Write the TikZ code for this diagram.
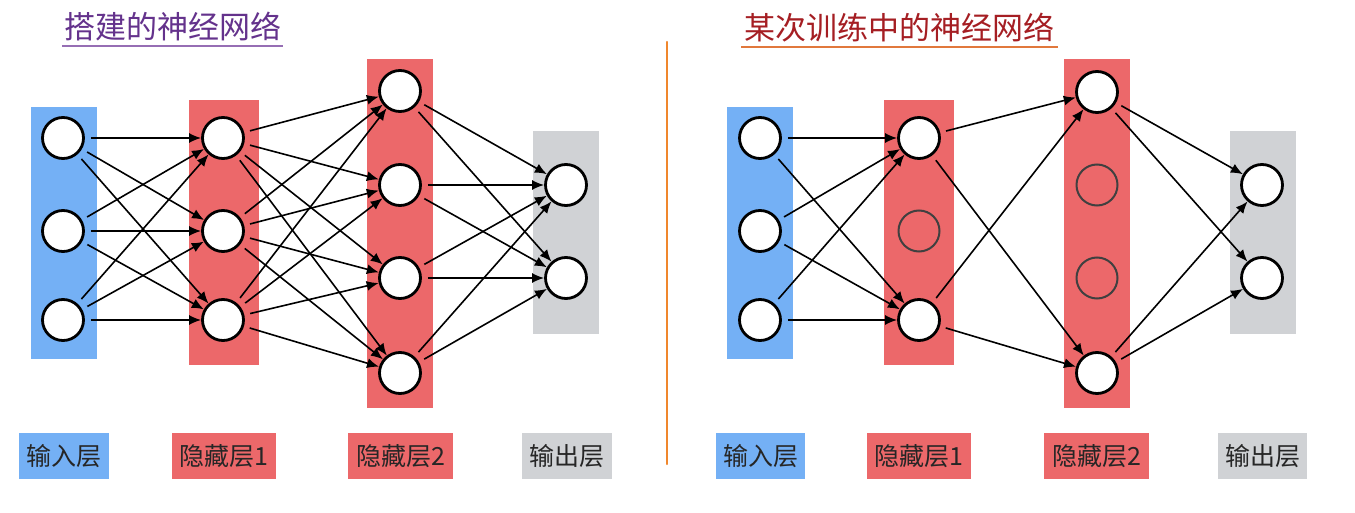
\documentclass[tikz,border=0pt]{standalone}
\usepackage{fontspec}
\newfontfamily\cjk{Noto Sans CJK SC}
\usetikzlibrary{arrows.meta}
\definecolor{inblue}{RGB}{116,176,245}
\definecolor{hidred}{RGB}{236,104,106}
\definecolor{outgray}{RGB}{208,210,213}
\definecolor{titlepurple}{RGB}{100,50,140}
\definecolor{linepurple}{RGB}{150,110,180}
\definecolor{titlered}{RGB}{165,30,35}
\definecolor{lineorange}{RGB}{225,120,60}
\definecolor{divorange}{RGB}{240,135,45}
\tikzset{
  layerbox/.style={rectangle, inner sep=0pt, draw=none},
  neuron/.style={circle, draw=black, line width=2.8pt, fill=white, minimum size=41pt, inner sep=0pt},
  dropped/.style={circle, draw=black!75, line width=2pt, minimum size=41pt, inner sep=0pt},
  conn/.style={black, line width=1.6pt, -{Latex[length=12pt,width=10pt]}, shorten <=6pt},
  tag/.style={rectangle, inner sep=0pt, minimum height=46pt, font=\cjk\fontsize{25}{27}\selectfont, text=black!85},
  ttl/.style={inner sep=0pt, font=\cjk\fontsize{31}{34}\selectfont}
}
\begin{document}
\begin{tikzpicture}[x=1pt,y=-1pt]
\useasboundingbox (0,0) rectangle (1355,513);
\fill[white] (0,0) rectangle (1355,513);

% titles
\node[ttl, text=titlepurple, anchor=center] (t1) at (173,27) {搭建的神经网络};
\draw[linepurple, line width=1.8pt] (62,46) -- (283,46);
\node[ttl, text=titlered, anchor=center] (t2) at (899,28) {某次训练中的神经网络};
\draw[lineorange, line width=1.8pt] (741,47) -- (1058,47);

% divider
\coordinate (d1) at (667,42);
\coordinate (d2) at (667,464);
\draw[divorange, line width=2.2pt, line cap=round] (d1) -- (d2);

% ---------- left panel ----------
\node[layerbox, fill=inblue, minimum width=66pt, minimum height=252pt] (LA) at (64,233) {};
\node[layerbox, fill=hidred, minimum width=70pt, minimum height=265pt] (LB) at (224,232.5) {};
\node[layerbox, fill=hidred, minimum width=66pt, minimum height=349pt] (LC) at (400,233.5) {};
\node[layerbox, fill=outgray, minimum width=66pt, minimum height=203pt] (LD) at (566,232.5) {};

\node[neuron] (a1) at (63,138) {};
\node[neuron] (a2) at (63,231) {};
\node[neuron] (a3) at (63,320) {};
\node[neuron] (b1) at (223,138) {};
\node[neuron] (b2) at (223,231) {};
\node[neuron] (b3) at (223,320) {};
\node[neuron] (c1) at (400,91) {};
\node[neuron] (c2) at (400,185) {};
\node[neuron] (c3) at (400,278) {};
\node[neuron] (c4) at (400,373) {};
\node[neuron] (d1n) at (566,185) {};
\node[neuron] (d2n) at (566,278) {};

\foreach \s in {a1,a2,a3} \foreach \t in {b1,b2,b3} \draw[conn] (\s) -- (\t);
\foreach \s in {b1,b2,b3} \foreach \t in {c1,c2,c3,c4} \draw[conn] (\s) -- (\t);
\foreach \s in {c1,c2,c3,c4} \foreach \t in {d1n,d2n} \draw[conn] (\s) -- (\t);

\node[tag, fill=inblue, minimum width=90pt] (la) at (64,456) {输入层};
\node[tag, fill=hidred, minimum width=104pt] (lb) at (224,456) {隐藏层1};
\node[tag, fill=hidred, minimum width=105pt] (lc) at (400.5,456) {隐藏层2};
\node[tag, fill=outgray, minimum width=90pt] (ld) at (567,456) {输出层};

% ---------- right panel ----------
\node[layerbox, fill=inblue, minimum width=66pt, minimum height=252pt] (RA) at (760,233) {};
\node[layerbox, fill=hidred, minimum width=70pt, minimum height=265pt] (RB) at (919,232.5) {};
\node[layerbox, fill=hidred, minimum width=66pt, minimum height=349pt] (RC) at (1097,233.5) {};
\node[layerbox, fill=outgray, minimum width=66pt, minimum height=203pt] (RD) at (1263,232.5) {};

\node[neuron] (p1) at (760,138) {};
\node[neuron] (p2) at (760,231) {};
\node[neuron] (p3) at (760,320) {};
\node[neuron] (q1) at (919,138) {};
\node[dropped] (q2) at (919,231) {};
\node[neuron] (q3) at (919,320) {};
\node[neuron] (r1) at (1097,92) {};
\node[dropped] (r2) at (1097,185) {};
\node[dropped] (r3) at (1097,278) {};
\node[neuron] (r4) at (1097,373) {};
\node[neuron] (s1) at (1262,185) {};
\node[neuron] (s2) at (1262,278) {};

\foreach \s in {p1,p2,p3} \foreach \t in {q1,q3} \draw[conn] (\s) -- (\t);
\foreach \s in {q1,q3} \foreach \t in {r1,r4} \draw[conn] (\s) -- (\t);
\foreach \s in {r1,r4} \foreach \t in {s1,s2} \draw[conn] (\s) -- (\t);

\node[tag, fill=inblue, minimum width=89pt] (ra) at (760.5,456) {输入层};
\node[tag, fill=hidred, minimum width=104pt] (rb) at (919,456) {隐藏层1};
\node[tag, fill=hidred, minimum width=105pt] (rc) at (1096.5,456) {隐藏层2};
\node[tag, fill=outgray, minimum width=89pt] (rd) at (1262.5,456) {输出层};
\end{tikzpicture}
\end{document}
